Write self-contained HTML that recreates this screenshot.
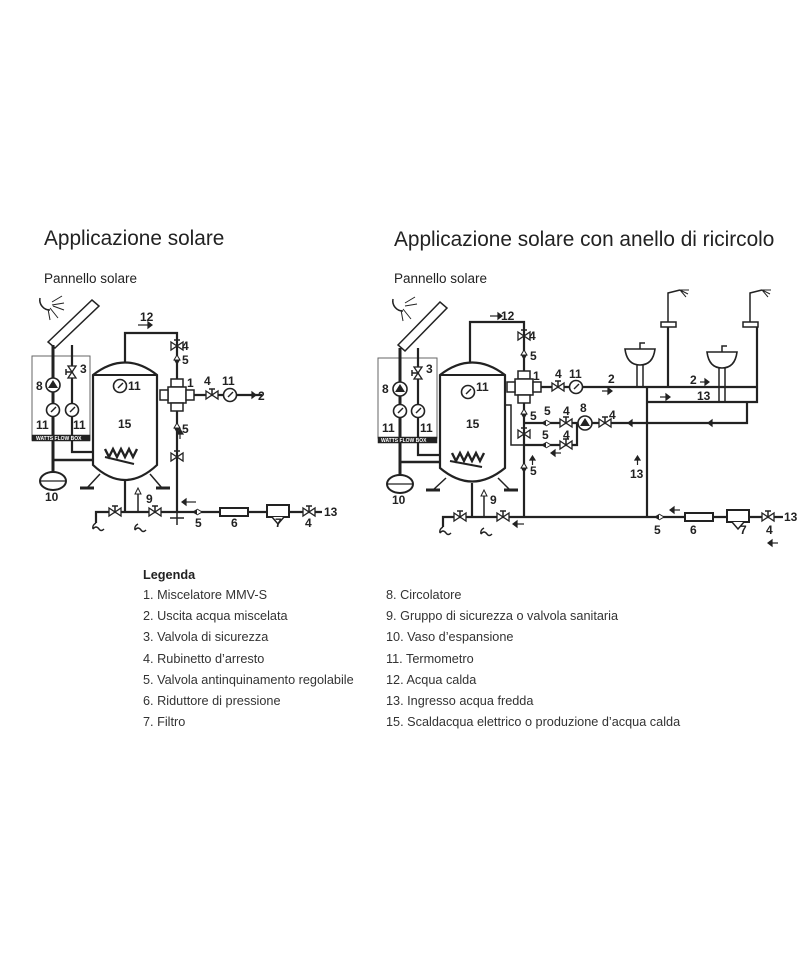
<!DOCTYPE html>
<html><head><meta charset="utf-8"><style>
html,body{margin:0;padding:0;background:#fff;}
svg{display:block;}
</style></head><body>
<svg width="800" height="960" viewBox="0 0 800 960" xmlns="http://www.w3.org/2000/svg" font-family="Liberation Sans, Arial, sans-serif">
<defs>
<g id="v"><path d="M-6,-4 L6,4 L6,-4 L-6,4 Z" fill="#fff" stroke="#222" stroke-width="1.3"/><line x1="0" y1="0" x2="0" y2="-6" stroke="#222" stroke-width="1.5"/><line x1="-3" y1="-6" x2="3" y2="-6" stroke="#222" stroke-width="1.5"/></g>
<g id="vv"><path d="M-4,-6 L4,6 L-4,6 L4,-6 Z" fill="#fff" stroke="#222" stroke-width="1.3"/><line x1="0" y1="0" x2="-6" y2="0" stroke="#222" stroke-width="1.5"/><line x1="-6" y1="-3" x2="-6" y2="3" stroke="#222" stroke-width="1.5"/></g>
<g id="g"><circle r="6.5" fill="#fff" stroke="#222" stroke-width="1.6"/><line x1="-2" y1="2" x2="3" y2="-3" stroke="#222" stroke-width="1.4"/></g>
<g id="ck"><path d="M-5,0 L0,-3 L0,3 Z" fill="#222"/><path d="M0,-3 L5,0 L0,3" fill="#fff" stroke="#222" stroke-width="1"/></g>
<g id="ckv"><path d="M0,-5 L-3,0 L3,0 Z" fill="#fff" stroke="#222" stroke-width="1"/><path d="M-3,0 L3,0 L0,5 Z" fill="#222"/></g>
<g id="pump"><circle r="7" fill="#fff" stroke="#222" stroke-width="1.6"/><path d="M-5,3 L0,-5 L5,3 Z" fill="#222"/></g>
<g id="mix"><rect x="-6" y="-16" width="12" height="8" fill="#fff" stroke="#222" stroke-width="1.5"/><rect x="-9" y="-8" width="18" height="16" fill="#fff" stroke="#222" stroke-width="1.5"/><rect x="-17" y="-5" width="8" height="10" fill="#fff" stroke="#222" stroke-width="1.5"/><rect x="9" y="-5" width="8" height="10" fill="#fff" stroke="#222" stroke-width="1.5"/><rect x="-6" y="8" width="12" height="8" fill="#fff" stroke="#222" stroke-width="1.5"/></g>
<path id="dr" d="M0,0 q-4,2 -3,6 M-3,6 q3,-4 6,0 q2,3 5,0" fill="none" stroke="#222" stroke-width="1.5"/>
</defs>

<g fill="#222">
<text x="44" y="245" font-size="20.8">Applicazione solare</text>
<text x="394" y="246" font-size="20.8">Applicazione solare con anello di ricircolo</text>
<text x="44" y="283" font-size="13.5">Pannello solare</text>
<text x="394" y="283" font-size="13.5">Pannello solare</text>
</g>

<!-- LEFT DIAGRAM -->
<g stroke="#222" fill="none" stroke-width="2.2">
<path d="M40,298 A10,10 0 0 0 50,310" stroke-width="1.5"/>
<g stroke-width="1"><line x1="52" y1="302" x2="62" y2="296"/><line x1="52" y1="305" x2="64" y2="303"/><line x1="50" y1="308" x2="58" y2="318"/><line x1="48" y1="309" x2="50" y2="320"/><line x1="53" y1="306" x2="64" y2="310"/></g>
<path d="M48,342 L92,300 L99,306 L55,348 Z" fill="#fff" stroke-width="1.5"/>
<rect x="32" y="356" width="58" height="84" stroke-width="1" stroke="#666"/>
<rect x="32" y="435" width="58" height="6" fill="#222" stroke-width="0.5"/>
<line x1="53" y1="345" x2="53" y2="472" stroke-width="3"/>
<path d="M72,345 L72,452 L105,452"/>
<path d="M53,460 L95,460" stroke-width="2.4"/>
<path d="M93,375 Q125,350 157,375 L157,465 Q125,495 93,465 Z" fill="#fff"/>
<line x1="93" y1="375" x2="157" y2="375" stroke-width="2"/>
<path d="M105,449 l4,8 l4,-8 l4,8 l4,-8 l4,8 l4,-8 l4,8 l4,-8" stroke-width="2.4"/>
<path d="M105,457 L134,464" stroke-width="2"/>
<path d="M100,474 L87,488 M150,474 L162,488" stroke-width="1.5"/>
<path d="M80,488 h14 M156,488 h14" stroke-width="3"/>
<path d="M125,363 L125,333 L177,333 L177,512"/>
<path d="M186,395 L262,395"/>
<path d="M96,523 L96,512 L322,512"/>
<line x1="125" y1="480" x2="125" y2="512"/>
<line x1="138" y1="492" x2="138" y2="512" stroke-width="1.5"/>
<line x1="177" y1="512" x2="177" y2="525" stroke-width="1.5"/>
<line x1="170" y1="518" x2="184" y2="518" stroke-width="1.5"/>
</g>
<use href="#pump" x="53" y="385"/>
<use href="#g" x="53" y="410"/><use href="#g" x="72" y="410"/>
<ellipse cx="53" cy="481" rx="13" ry="9" fill="#fff" stroke="#222" stroke-width="2"/>
<line x1="40" y1="481" x2="66" y2="481" stroke="#222" stroke-width="1.2"/>
<use href="#vv" x="72" y="372"/>
<use href="#g" x="120" y="386"/>
<use href="#v" x="177" y="346"/>
<use href="#ckv" x="177" y="360"/>
<use href="#mix" x="177" y="395"/>
<use href="#ckv" x="177" y="428"/>
<use href="#v" x="177" y="457"/>
<use href="#v" x="212" y="395"/>
<use href="#g" x="230" y="395"/>
<use href="#v" x="115" y="512"/>
<use href="#v" x="155" y="512"/>
<use href="#ck" x="197" y="512"/>
<rect x="220" y="508" width="28" height="8" fill="#fff" stroke="#222" stroke-width="2"/>
<rect x="267" y="505" width="22" height="12" fill="#fff" stroke="#222" stroke-width="2"/>
<path d="M272,517 l6,7 l6,-7" fill="#fff" stroke="#222" stroke-width="1.5"/>
<use href="#v" x="309" y="512"/>
<path d="M138,488 l-3,6 h6 Z" fill="#fff" stroke="#222"/>
<use href="#dr" x="96" y="523"/><use href="#dr" x="138" y="524"/>
<g fill="#222" stroke="#222" stroke-width="1.2">
<line x1="138" y1="325" x2="148" y2="325"/><path d="M148,322 l4,3 l-4,3 Z"/>
<line x1="180" y1="439" x2="180" y2="432"/><path d="M177,434 l3,-5 l3,5Z"/>
<line x1="186" y1="502" x2="196" y2="502"/><path d="M186,499 l-4,3 l4,3Z"/>
<line x1="244" y1="395" x2="252" y2="395"/><path d="M252,392 l4,3 l-4,3Z"/>
</g>
<g fill="#222" font-weight="bold" font-size="12">
<text x="140" y="321">12</text><text x="182" y="350">4</text><text x="182" y="364">5</text>
<text x="187" y="387">1</text><text x="204" y="385">4</text><text x="222" y="385">11</text>
<text x="258" y="400">2</text><text x="182" y="433">5</text>
<text x="36" y="390">8</text><text x="36" y="429">11</text><text x="73" y="429">11</text>
<text x="80" y="373">3</text><text x="128" y="390">11</text><text x="118" y="428">15</text>
<text x="45" y="501">10</text><text x="146" y="503">9</text>
<text x="195" y="527">5</text><text x="231" y="527">6</text><text x="275" y="527">7</text>
<text x="305" y="527">4</text><text x="324" y="516">13</text>
<text x="36" y="440" font-size="5" fill="#fff">WATTS FLOW BOX</text>
</g>

<!-- RIGHT DIAGRAM -->
<g stroke="#222" fill="none" stroke-width="2.2">
<path d="M393,299 A10,10 0 0 0 403,311" stroke-width="1.5"/>
<g stroke-width="1"><line x1="405" y1="303" x2="415" y2="297"/><line x1="405" y1="306" x2="417" y2="304"/><line x1="403" y1="309" x2="411" y2="319"/><line x1="401" y1="310" x2="403" y2="321"/></g>
<path d="M398,345 L440,302 L447,308 L405,351 Z" fill="#fff" stroke-width="1.5"/>
<rect x="378" y="358" width="59" height="80" stroke-width="1" stroke="#666"/>
<rect x="378" y="437" width="59" height="6" fill="#222" stroke-width="0.5"/>
<line x1="400" y1="348" x2="400" y2="475" stroke-width="3"/>
<path d="M418,348 L418,455 L450,455"/>
<path d="M400,462 L445,462" stroke-width="2.4"/>
<path d="M440,375 Q472,350 505,375 L505,468 Q472,495 440,468 Z" fill="#fff"/>
<line x1="440" y1="375" x2="505" y2="375" stroke-width="2"/>
<path d="M452,453 l4,8 l4,-8 l4,8 l4,-8 l4,8 l4,-8 l4,8 l4,-8" stroke-width="2.4"/>
<path d="M450,461 L482,467" stroke-width="2"/>
<path d="M446,478 L433,490 M498,478 L510,490" stroke-width="1.5"/>
<path d="M426,490 h14 M504,490 h14" stroke-width="3"/>
<path d="M470,362 L470,322 L524,322 L524,517"/>
<path d="M505,405 L511,405 L511,445 L524,445" stroke-width="1.5"/>
<path d="M533,387 L757,387"/>
<path d="M647,402 L757,402 L757,327"/>
<path d="M668,387 L668,325"/>
<path d="M524,423 L747,423 L747,402"/>
<path d="M524,445 L577,445 L577,423"/>
<path d="M647,387 L647,517"/>
<path d="M443,527 L443,517 L783,517"/>
<line x1="472" y1="483" x2="472" y2="517"/>
<line x1="484" y1="494" x2="484" y2="517" stroke-width="1.5"/>
<rect x="661" y="322" width="15" height="5" fill="#fff" stroke-width="1.5"/>
<rect x="743" y="322" width="15" height="5" fill="#fff" stroke-width="1.5"/>
<path d="M668,322 L668,293 L680,290 M750,322 L750,293 L762,290" stroke-width="1.5"/>
<g stroke-width="1"><path d="M680,290 l8,4 M680,290 l6,7 M680,290 l9,0 M762,290 l8,4 M762,290 l6,7 M762,290 l9,0"/></g>
<path d="M625,349 h30 q-2,16 -15,16 q-13,0 -15,-16 Z" fill="#fff" stroke-width="1.6"/>
<path d="M637,365 L637,387 M643,365 L643,387" stroke-width="1.5"/>
<path d="M707,352 h30 q-2,16 -15,16 q-13,0 -15,-16 Z" fill="#fff" stroke-width="1.6"/>
<path d="M719,368 L719,402 M725,368 L725,402" stroke-width="1.5"/>
<path d="M640,349 v-6 h5 M722,352 v-6 h5" stroke-width="1.5"/>
</g>
<use href="#pump" x="400" y="389"/>
<use href="#g" x="400" y="411"/><use href="#g" x="418" y="411"/>
<ellipse cx="400" cy="484" rx="13" ry="9" fill="#fff" stroke="#222" stroke-width="2"/>
<line x1="387" y1="484" x2="413" y2="484" stroke="#222" stroke-width="1.2"/>
<use href="#vv" x="418" y="373"/>
<use href="#g" x="468" y="392"/>
<use href="#v" x="524" y="336"/>
<use href="#ckv" x="524" y="355"/>
<use href="#mix" x="524" y="387"/>
<use href="#ckv" x="524" y="414"/>
<use href="#v" x="524" y="434"/>
<use href="#ckv" x="524" y="468"/>
<use href="#v" x="558" y="387"/>
<use href="#g" x="576" y="387"/>
<use href="#ck" x="546" y="423"/>
<use href="#v" x="566" y="423"/>
<use href="#pump" x="585" y="423"/>
<use href="#v" x="605" y="423"/>
<use href="#ck" x="546" y="445"/>
<use href="#v" x="566" y="445"/>
<use href="#v" x="460" y="517"/>
<use href="#v" x="503" y="517"/>
<use href="#ck" x="659" y="517"/>
<rect x="685" y="513" width="28" height="8" fill="#fff" stroke="#222" stroke-width="2"/>
<rect x="727" y="510" width="22" height="12" fill="#fff" stroke="#222" stroke-width="2"/>
<path d="M732,522 l6,7 l6,-7" fill="#fff" stroke="#222" stroke-width="1.5"/>
<use href="#v" x="768" y="517"/>
<path d="M484,490 l-3,6 h6 Z" fill="#fff" stroke="#222"/>
<use href="#dr" x="443" y="527"/><use href="#dr" x="484" y="528"/>
<g fill="#222" stroke="#222" stroke-width="1.2">
<line x1="490" y1="316" x2="498" y2="316"/><path d="M498,313 l4,3 l-4,3Z"/>
<line x1="602" y1="391" x2="608" y2="391"/><path d="M608,388 l4,3 l-4,3Z"/>
<line x1="660" y1="397" x2="666" y2="397"/><path d="M666,394 l4,3 l-4,3Z"/>
<line x1="700" y1="382" x2="705" y2="382"/><path d="M705,379 l4,3 l-4,3Z"/>
<path d="M632,420 l-4,3 l4,3Z"/>
<path d="M712,420 l-4,3 l4,3Z"/>
<path d="M530,460 l2.5,-4 l2.5,4Z"/><line x1="532.5" y1="460" x2="532.5" y2="465"/>
<path d="M635,460 l2.5,-4 l2.5,4Z"/><line x1="637.5" y1="460" x2="637.5" y2="465"/>
<path d="M517,521 l-4,3 l4,3Z"/><line x1="517" y1="524" x2="524" y2="524"/>
<path d="M555,450 l-4,3 l4,3Z"/><line x1="555" y1="453" x2="561" y2="453"/>
<path d="M674,507 l-4,3 l4,3Z"/><line x1="674" y1="510" x2="680" y2="510"/>
<path d="M772,540 l-4,3 l4,3Z"/><line x1="772" y1="543" x2="778" y2="543"/>
</g>
<g fill="#222" font-weight="bold" font-size="12">
<text x="501" y="320">12</text><text x="529" y="340">4</text><text x="530" y="360">5</text>
<text x="533" y="380">1</text><text x="555" y="378">4</text><text x="569" y="378">11</text>
<text x="608" y="383">2</text><text x="690" y="384">2</text><text x="697" y="400">13</text>
<text x="530" y="420">5</text><text x="544" y="415">5</text><text x="563" y="415">4</text>
<text x="580" y="412">8</text><text x="609" y="419">4</text>
<text x="542" y="439">5</text><text x="563" y="439">4</text>
<text x="530" y="475">5</text><text x="630" y="478">13</text>
<text x="382" y="393">8</text><text x="382" y="432">11</text><text x="420" y="432">11</text>
<text x="426" y="373">3</text><text x="476" y="391">11</text><text x="466" y="428">15</text>
<text x="392" y="504">10</text><text x="490" y="504">9</text>
<text x="654" y="534">5</text><text x="690" y="534">6</text><text x="740" y="534">7</text>
<text x="766" y="534">4</text><text x="784" y="521">13</text>
<text x="381" y="442" font-size="5" fill="#fff">WATTS FLOW BOX</text>
</g>

<!-- LEGEND -->
<g fill="#333" font-size="12.7">
<text x="143" y="579" font-weight="bold" fill="#222">Legenda</text>
<text x="143" y="599">1. Miscelatore MMV-S</text>
<text x="143" y="620">2. Uscita acqua miscelata</text>
<text x="143" y="641">3. Valvola di sicurezza</text>
<text x="143" y="663">4. Rubinetto d’arresto</text>
<text x="143" y="684">5. Valvola antinquinamento regolabile</text>
<text x="143" y="705">6. Riduttore di pressione</text>
<text x="143" y="726">7. Filtro</text>
<text x="386" y="599">8. Circolatore</text>
<text x="386" y="620">9. Gruppo di sicurezza o valvola sanitaria</text>
<text x="386" y="641">10. Vaso d’espansione</text>
<text x="386" y="663">11. Termometro</text>
<text x="386" y="684">12. Acqua calda</text>
<text x="386" y="705">13. Ingresso acqua fredda</text>
<text x="386" y="726">15. Scaldacqua elettrico o produzione d’acqua calda</text>
</g>
</svg>
</body></html>
